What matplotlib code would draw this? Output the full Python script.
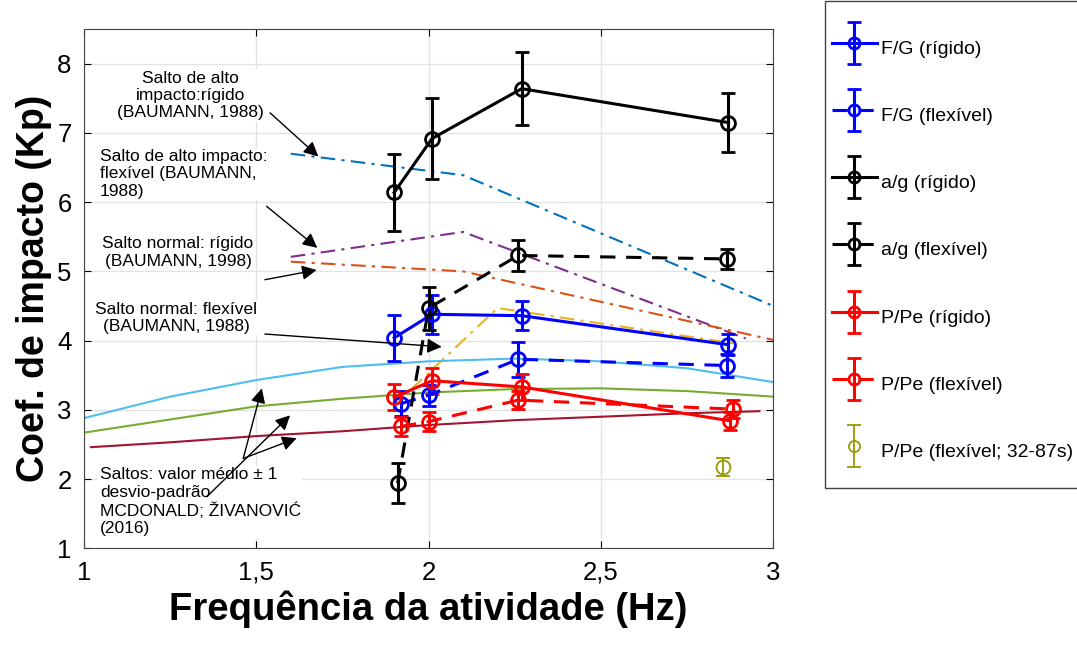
import numpy as np
import matplotlib
matplotlib.use('Agg')
import matplotlib.pyplot as plt
from matplotlib.patches import Rectangle
from matplotlib.legend_handler import HandlerErrorbar
from matplotlib.container import ErrorbarContainer

plt.rcParams['font.family'] = ['Liberation Sans', 'DejaVu Sans']

# measured data (frequency in Hz, coefficient, +-error)
fg_rig_x = [1.90, 2.01, 2.27, 2.87]
fg_rig_y = [4.04, 4.38, 4.36, 3.94]
fg_rig_e = [0.33, 0.28, 0.21, 0.15]

fg_flex_x = [1.92, 2.00, 2.26, 2.865]
fg_flex_y = [3.09, 3.21, 3.73, 3.64]
fg_flex_e = [0.18, 0.15, 0.25, 0.16]

ag_rig_x = [1.90, 2.01, 2.27, 2.87]
ag_rig_y = [6.14, 6.92, 7.64, 7.15]
ag_rig_e = [0.55, 0.58, 0.53, 0.43]

ag_flex_x = [1.91, 2.00, 2.26, 2.865]
ag_flex_y = [1.94, 4.47, 5.23, 5.18]
ag_flex_e = [0.29, 0.31, 0.23, 0.15]

pp_rig_x = [1.90, 2.01, 2.27, 2.875]
pp_rig_y = [3.18, 3.42, 3.33, 2.84]
pp_rig_e = [0.19, 0.19, 0.19, 0.13]

pp_flex_x = [1.92, 2.00, 2.26, 2.883]
pp_flex_y = [2.76, 2.83, 3.14, 3.01]
pp_flex_e = [0.14, 0.14, 0.13, 0.13]

pp_long_x = [2.854]
pp_long_y = [2.17]
pp_long_e = [0.13]

# BAUMANN reference curves
alto_rig_x = [1.6, 2.1, 3.0]
alto_rig_y = [6.70, 6.39, 4.50]
alto_flex_x = [1.6, 2.1, 2.92]
alto_flex_y = [5.21, 5.57, 4.03]
normal_rig_x = [1.6, 2.1, 3.0]
normal_rig_y = [5.14, 5.00, 4.01]
normal_flex_x = [1.95, 2.2, 2.9]
normal_flex_y = [3.30, 4.47, 3.95]

# MCDONALD; ZIVANOVIC (2016) mean +- 1 std
mc_x = [1.0, 1.25, 1.5, 1.75, 2.0, 2.25, 2.5, 2.75, 3.0]
mc_up = [2.88, 3.19, 3.43, 3.62, 3.70, 3.74, 3.70, 3.60, 3.40]
mc_mid = [2.67, 2.86, 3.05, 3.16, 3.25, 3.30, 3.31, 3.27, 3.19]
mc_low_x = [1.02, 1.25, 1.5, 1.75, 2.0, 2.25, 2.5, 2.75, 2.96]
mc_low = [2.46, 2.53, 2.62, 2.69, 2.78, 2.85, 2.90, 2.95, 2.98]

fig = plt.figure(figsize=(10.77, 6.48), dpi=100)
ax = fig.add_axes([0.078, 0.154, 0.64, 0.801])

dd = (0, (7, 3, 1.5, 3))
ax.plot(alto_rig_x, alto_rig_y, color='#0072BD', ls=dd, lw=1.5, zorder=2)
ax.plot(alto_flex_x, alto_flex_y, color='#7E2F8E', ls=dd, lw=1.5, zorder=2)
ax.plot(normal_rig_x, normal_rig_y, color='#D95319', ls=dd, lw=1.5, zorder=2)
ax.plot(normal_flex_x, normal_flex_y, color='#EDB120', ls=dd, lw=1.5, zorder=2)
ax.plot(mc_x, mc_up, color='#4DBEEE', lw=1.5, zorder=2)
ax.plot(mc_x, mc_mid, color='#77AC30', lw=1.5, zorder=2)
ax.plot(mc_low_x, mc_low, color='#A2142F', lw=1.5, zorder=2)

eb = dict(marker='o', mfc='none', ms=10, mew=2, capsize=5, capthick=2.2, elinewidth=2.2, lw=2.2, zorder=4)
dash = (0, (5, 3.5))
ax.errorbar(fg_rig_x, fg_rig_y, yerr=fg_rig_e, color='b', ls='-', label='F/G (rígido)', **eb)
ax.errorbar(fg_flex_x, fg_flex_y, yerr=fg_flex_e, color='b', ls=dash, label='F/G (flexível)', **eb)
ax.errorbar(ag_rig_x, ag_rig_y, yerr=ag_rig_e, color='k', ls='-', label='a/g (rígido)', **eb)
ax.errorbar(ag_flex_x, ag_flex_y, yerr=ag_flex_e, color='k', ls=dash, label='a/g (flexível)', **eb)
ax.errorbar(pp_rig_x, pp_rig_y, yerr=pp_rig_e, color='r', ls='-', label='P/Pe (rígido)', **eb)
ax.errorbar(pp_flex_x, pp_flex_y, yerr=pp_flex_e, color='r', ls=dash, label='P/Pe (flexível)', **eb)
ax.errorbar(pp_long_x, pp_long_y, yerr=pp_long_e, color='#999900', ls='none', marker='o', mfc='none',
            ms=10, mew=1.3, capsize=5, capthick=1.3, elinewidth=1.3, label='P/Pe (flexível; 32-87s)', zorder=4)

ax.set_xlim(1, 3)
ax.set_ylim(1, 8.5)
ax.set_xticks([1, 1.5, 2, 2.5, 3])
ax.set_xticklabels(['1', '1,5', '2', '2,5', '3'])
ax.set_yticks([1, 2, 3, 4, 5, 6, 7, 8])
ax.tick_params(labelsize=18.5, direction='in', top=True, right=True, length=5, pad=9)
ax.grid(True, color='#e3e3e3', lw=1)
ax.set_axisbelow(True)
for s in ax.spines.values():
    s.set_color('#444444')
ax.set_xlabel('Frequência da atividade (Hz)', fontsize=27.5, fontweight='bold', labelpad=4)
ax.set_ylabel('Coef. de impacto (Kp)', fontsize=27, fontweight='bold', labelpad=4)

box = dict(facecolor='white', edgecolor='none', pad=1)
arr = dict(arrowstyle='-|>', color='k', lw=1, mutation_scale=22, shrinkA=0, shrinkB=0)
fs = 12.5
ax.text(1.31, 7.54, 'Salto de alto\nimpacto:rígido\n(BAUMANN, 1988)', ha='center', va='center',
        fontsize=fs, bbox=box, zorder=5)
ax.annotate('', xy=(1.68, 6.66), xytext=(1.54, 7.29), arrowprops=arr, zorder=5)
ax.text(1.046, 6.41, 'Salto de alto impacto:\nflexível (BAUMANN,\n1988)', ha='left', va='center',
        fontsize=fs, bbox=box, zorder=5)
ax.annotate('', xy=(1.677, 5.34), xytext=(1.53, 5.94), arrowprops=arr, zorder=5)
ax.text(1.273, 5.27, 'Salto normal: rígido\n(BAUMANN, 1998)', ha='center', va='center',
        fontsize=fs, bbox=box, zorder=5)
ax.annotate('', xy=(1.675, 5.02), xytext=(1.525, 4.88), arrowprops=arr, zorder=5)
ax.text(1.267, 4.33, 'Salto normal: flexível\n(BAUMANN, 1988)', ha='center', va='center',
        fontsize=fs, bbox=box, zorder=5)
ax.annotate('', xy=(2.038, 3.91), xytext=(1.525, 4.095), arrowprops=arr, zorder=5)
ax.text(1.046, 1.67, 'Saltos: valor médio ± 1\ndesvio-padrão\nMCDONALD; ŽIVANOVIĆ\n(2016)', ha='left',
        va='center', fontsize=fs, bbox=box, zorder=3)
ax.annotate('', xy=(1.516, 3.31), xytext=(1.462, 2.297), arrowprops=arr, zorder=5)
ax.annotate('', xy=(1.598, 2.92), xytext=(1.356, 1.742), arrowprops=arr, zorder=5)
ax.annotate('', xy=(1.617, 2.59), xytext=(1.462, 2.297), arrowprops=arr, zorder=5)

# legend outside the axes, with its own frame
leg = ax.legend(loc='upper left', bbox_to_anchor=(832 / 1077, 1 - 32 / 648), bbox_transform=fig.transFigure,
                fontsize=14, labelspacing=1.81, handlelength=2.3, handleheight=2.15, handletextpad=0.2,
                borderpad=0, borderaxespad=0, frameon=False, markerscale=0.8,
                handler_map={ErrorbarContainer: HandlerErrorbar(yerr_size=1.08)})
fig.patches.append(Rectangle((825 / 1077, 1 - 488 / 648), 0.3, 487 / 648, transform=fig.transFigure,
                             facecolor='none', edgecolor='#444444', lw=1))

fig.savefig('out.png', dpi=100)
